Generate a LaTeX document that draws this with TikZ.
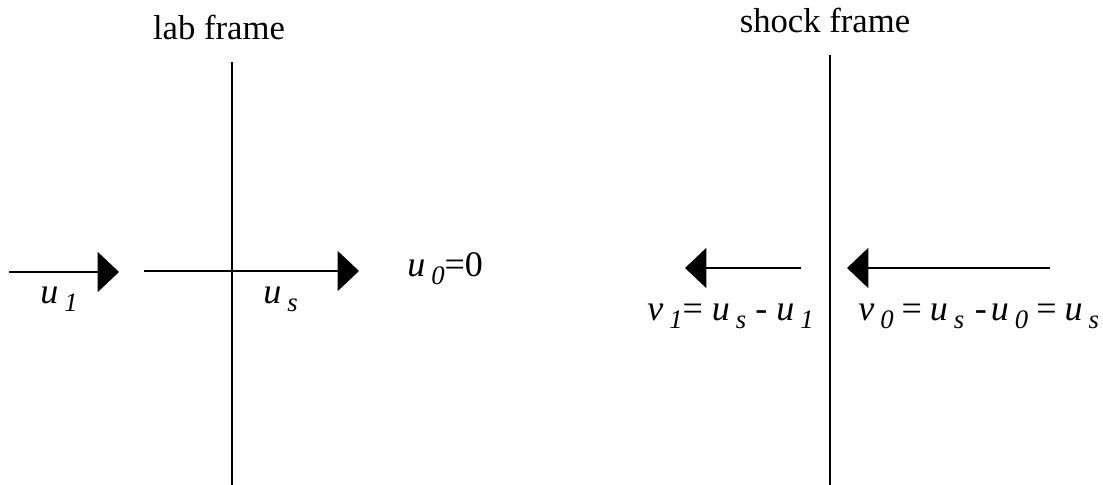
\documentclass[tikz,border=0pt]{standalone}
\usepackage{fontspec}
\setmainfont{Liberation Serif}
\usetikzlibrary{arrows.meta}
\newcommand{\ssub}[1]{\,\raisebox{-0.5ex}{\fontsize{20}{20}\selectfont\itshape #1}}
\newcommand{\eqs}{\hspace{6pt}{\upshape =}\hspace{6pt}}
\begin{document}
\begin{tikzpicture}[x=0.75pt,y=-0.75pt,
  ln/.style={line width=1.2pt},
  head/.style={ln,-{Triangle[length=16pt,width=30pt]}},
  title/.style={font=\fontsize{26}{30}\selectfont, inner sep=0pt, anchor=base},
  mlbl/.style={font=\fontsize{27}{30}\selectfont\itshape, inner sep=0pt, anchor=base west}]
\useasboundingbox (0,0) rectangle (1103,485);
% frame lines
\coordinate (lt) at (232,62);
\coordinate (lb) at (232,485);
\coordinate (rt) at (830,55);
\coordinate (rb) at (830,485);
\draw[ln] (lt) -- (lb);
\draw[ln] (rt) -- (rb);
% titles
\node[title] (labt) at (219,40) {lab frame};
\node[title] (shockt) at (825,33) {shock frame};
% lab arrows
\coordinate (a1s) at (9,272);
\coordinate (a1e) at (119,272);
\coordinate (a2s) at (144,271);
\coordinate (a2e) at (359,271);
\draw[head] (a1s) -- (a1e);
\draw[head] (a2s) -- (a2e);
% shock arrows
\coordinate (a3s) at (801,268);
\coordinate (a3e) at (685,268);
\coordinate (a4s) at (1050,268);
\coordinate (a4e) at (847,268);
\draw[head] (a3s) -- (a3e);
\draw[head] (a4s) -- (a4e);
% labels
\node[mlbl] (u1) at (40,303) {u\ssub{1}};
\node[mlbl] (us) at (263,303) {u\ssub{s}};
\node[mlbl] (u0) at (407,276) {u\ssub{0}{\upshape =0}};
\node[mlbl] (v1) at (647,320) {v\ssub{1}{\upshape =} u\ssub{s} {\upshape -} u\ssub{1}};
\node[mlbl] (v0) at (858,320) {v\ssub{0}\eqs u\ssub{s}\hspace{8pt}{\upshape -}\hspace{3pt}u\ssub{0}\eqs u\ssub{s}};
\end{tikzpicture}
\end{document}
